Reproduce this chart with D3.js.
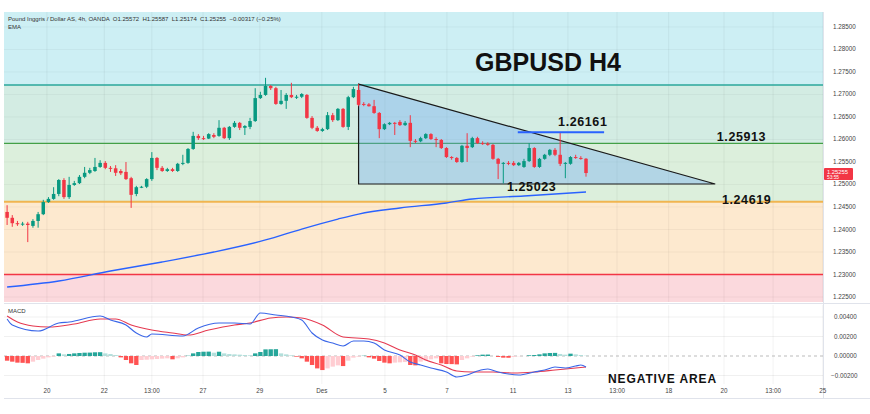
<!DOCTYPE html>
<html><head><meta charset="utf-8">
<script src="https://cdn.jsdelivr.net/npm/d3@7"></script>
<style>body{margin:0;background:#fff}svg{display:block;font-family:"Liberation Sans",Arial,sans-serif}</style>
</head><body><svg id="c" width="870" height="414"></svg>
<script>
// ---- DATA ----
// 4h candles: [open, high, low, close]
const candles = [
[1.2439,1.2454,1.2410,1.2426],[1.2426,1.2432,1.2406,1.2414],[1.2414,1.2419,1.2408,1.2412],[1.2412,1.2417,1.2408,1.2413],
[1.2413,1.2417,1.2372,1.2410],[1.2408,1.2423,1.2404,1.2419],[1.2419,1.2439,1.2404,1.2434],[1.2434,1.2466,1.2432,1.2461],
[1.2461,1.2472,1.2459,1.2468],[1.2468,1.2494,1.2466,1.2479],[1.2479,1.2512,1.2474,1.2510],[1.2510,1.2514,1.2468,1.2472],
[1.2472,1.2517,1.2468,1.2499],[1.2499,1.2508,1.2497,1.2503],[1.2503,1.2521,1.2501,1.2517],[1.2517,1.2539,1.2514,1.2526],
[1.2526,1.2537,1.2523,1.2532],[1.2530,1.2559,1.2528,1.2539],[1.2539,1.2554,1.2537,1.2548],[1.2548,1.2552,1.2534,1.2537],
[1.2537,1.2541,1.2528,1.2536],[1.2536,1.2543,1.2519,1.2526],[1.2530,1.2534,1.2521,1.2525],[1.2528,1.2550,1.2510,1.2512],
[1.2514,1.2517,1.2448,1.2477],[1.2479,1.2497,1.2474,1.2494],[1.2494,1.2497,1.2492,1.2495],[1.2495,1.2514,1.2492,1.2512],
[1.2512,1.2572,1.2508,1.2559],[1.2559,1.2561,1.2532,1.2537],[1.2537,1.2541,1.2528,1.2530],[1.2530,1.2537,1.2528,1.2534],
[1.2534,1.2537,1.2528,1.2530],[1.2530,1.2548,1.2528,1.2546],[1.2546,1.2566,1.2543,1.2548],[1.2548,1.2581,1.2546,1.2579],
[1.2579,1.2617,1.2577,1.2608],[1.2608,1.2612,1.2599,1.2603],[1.2603,1.2608,1.2599,1.2602],[1.2602,1.2614,1.2601,1.2612],
[1.2610,1.2614,1.2603,1.2606],[1.2608,1.2643,1.2606,1.2626],[1.2626,1.2628,1.2601,1.2603],[1.2603,1.2630,1.2599,1.2628],
[1.2628,1.2641,1.2626,1.2637],[1.2637,1.2639,1.2621,1.2626],[1.2626,1.2632,1.2610,1.2630],[1.2628,1.2648,1.2623,1.2641],
[1.2641,1.2714,1.2639,1.2692],[1.2692,1.2706,1.2690,1.2699],[1.2699,1.2737,1.2697,1.2719],[1.2719,1.2721,1.2710,1.2714],
[1.2714,1.2717,1.2677,1.2679],[1.2679,1.2710,1.2677,1.2686],[1.2686,1.2703,1.2668,1.2699],[1.2699,1.2726,1.2692,1.2694],
[1.2694,1.2699,1.2690,1.2695],[1.2695,1.2703,1.2692,1.2701],[1.2699,1.2701,1.2646,1.2648],[1.2648,1.2652,1.2623,1.2626],
[1.2626,1.2630,1.2617,1.2619],[1.2619,1.2626,1.2617,1.2623],[1.2623,1.2661,1.2621,1.2654],[1.2654,1.2659,1.2639,1.2643],
[1.2643,1.2670,1.2641,1.2668],[1.2668,1.2670,1.2626,1.2628],[1.2628,1.2697,1.2621,1.2694],[1.2694,1.2717,1.2692,1.2712],
[1.2710,1.2723,1.2674,1.2677],[1.2679,1.2683,1.2674,1.2678],[1.2678,1.2681,1.2673,1.2674],[1.2674,1.2688,1.2657,1.2659],
[1.2659,1.2661,1.2603,1.2623],[1.2623,1.2636,1.2621,1.2634],[1.2634,1.2639,1.2632,1.2637],[1.2637,1.2639,1.2610,1.2636],
[1.2639,1.2643,1.2630,1.2632],[1.2632,1.2641,1.2630,1.2637],[1.2637,1.2654,1.2583,1.2597],[1.2597,1.2601,1.2592,1.2596],
[1.2596,1.2606,1.2594,1.2603],[1.2603,1.2614,1.2601,1.2612],[1.2612,1.2614,1.2599,1.2601],[1.2601,1.2605,1.2583,1.2599],
[1.2599,1.2601,1.2579,1.2581],[1.2581,1.2583,1.2559,1.2561],[1.2561,1.2563,1.2555,1.2559],[1.2559,1.2561,1.2548,1.2550],
[1.2550,1.2588,1.2548,1.2586],[1.2586,1.2614,1.2550,1.2581],[1.2583,1.2606,1.2581,1.2603],[1.2603,1.2606,1.2590,1.2592],
[1.2592,1.2596,1.2588,1.2591],[1.2591,1.2594,1.2586,1.2588],[1.2588,1.2590,1.2555,1.2557],[1.2557,1.2559,1.2512,1.2546],
[1.2546,1.2550,1.25023,1.2548],[1.2548,1.2552,1.2543,1.2546],[1.2548,1.2552,1.2541,1.2543],[1.2543,1.2550,1.2541,1.2548],
[1.2539,1.2557,1.2537,1.2552],[1.2552,1.2592,1.2550,1.2581],[1.2581,1.2583,1.2537,1.2539],[1.2539,1.2559,1.2537,1.2557],
[1.2557,1.2568,1.2555,1.2566],[1.2566,1.2579,1.2563,1.2577],[1.2577,1.2581,1.2563,1.2566],[1.2566,1.26161,1.2541,1.2546],
[1.2546,1.2550,1.2514,1.2548],[1.2546,1.2563,1.2544,1.2561],[1.2561,1.2566,1.2557,1.2559],[1.2559,1.2563,1.2555,1.2557],
[1.25572,1.25587,1.25174,1.25255]
];
// EMA keyframes [candle index, price]
const ema = [[0,1.22722],[10,1.22856],[20,1.23078],[30,1.23278],[40,1.23500],[50,1.23767],[57,1.24011],[64,1.24233],
  [68,1.24344],[76,1.24478],[85,1.24589],[90,1.24678],[100,1.24744],[112,1.24833]];
// MACD line & signal keyframes [candle index, value]
const macdLine = [[0,0.00379],[1,0.00318],[6,0.00256],[10,0.00338],[12,0.00349],[18,0.00410],[20,0.00369],[23,0.00318],
  [25,0.00236],[27,0.00195],[28,0.00226],[34,0.00205],[37,0.00287],[41,0.00338],[44,0.00338],[47,0.00328],[49,0.00441],
  [52,0.00421],[55,0.00400],[57,0.00369],[59,0.00236],[61,0.00164],[63,0.00133],[65,0.00103],[67,0.00154],[69,0.00154],
  [71,0.00133],[73,0.00062],[76,0.00010],[78,-0.00062],[80,-0.00092],[82,-0.00123],[85,-0.00164],[87,-0.00215],
  [89,-0.00195],[91,-0.00154],[93,-0.00133],[95,-0.00164],[97,-0.00185],[99,-0.00195],[102,-0.00164],[104,-0.00144],
  [106,-0.00113],[108,-0.00123],[110,-0.00103],[111,-0.00092],[112,-0.00113]];
const signalLine = [[0,0.00410],[2,0.00349],[5,0.00308],[8,0.00297],[13,0.00328],[18,0.00379],[21,0.00379],[24,0.00318],
  [28,0.00267],[32,0.00236],[35,0.00215],[39,0.00267],[44,0.00318],[47,0.00338],[51,0.00390],[54,0.00400],[57,0.00390],
  [61,0.00318],[65,0.00195],[70,0.00174],[73,0.00133],[76,0.00062],[79,0.00010],[81,-0.00041],[84,-0.00092],
  [87,-0.00154],[90,-0.00164],[94,-0.00164],[98,-0.00174],[102,-0.00164],[106,-0.00144],[110,-0.00123],[112,-0.00113]];
const histogram = [-0.00048,-0.00058,-0.00068,-0.00070,-0.00075,-0.00058,-0.00041,-0.00027,-0.00014,-0.00007,
  0.00027,0.00017,0.00021,0.00027,0.00031,0.00034,0.00035,0.00038,0.00039,0.00027,0.00020,0.00010,
  -0.00014,-0.00041,-0.00075,-0.00092,-0.00041,-0.00038,-0.00034,-0.00031,-0.00027,-0.00024,-0.00034,-0.00024,-0.00014,
  0.00003,0.00027,0.00041,0.00044,0.00045,0.00034,0.00044,0.00027,0.00020,0.00017,0.00014,0.00010,0.00007,
  0.00027,0.00041,0.00068,0.00069,0.00070,0.00027,0.00017,0.00007,
  -0.00007,-0.00024,-0.00058,-0.00092,-0.00127,-0.00144,-0.00127,-0.00109,-0.00096,-0.00103,-0.00048,-0.00017,-0.00007,
  0.00003,-0.00014,-0.00027,-0.00051,-0.00068,-0.00075,-0.00068,-0.00065,-0.00062,-0.00092,-0.00096,-0.00058,-0.00048,
  -0.00034,-0.00024,-0.00075,-0.00082,-0.00083,-0.00086,-0.00041,-0.00024,-0.00007,0.00007,0.00014,0.00015,0.00000,
  -0.00010,-0.00017,-0.00018,-0.00010,-0.00003,0.00000,0.00007,0.00010,0.00017,0.00027,0.00031,0.00032,0.00021,
  0.00014,0.00024,0.00017,0.00010,0.00003];
// key levels
const levelResist = 1.27211, levelMid = 1.25913, levelSupport = 1.24619, levelLow = 1.23000;
const triangle = [[68,1.2723],[137,1.25011],[68,1.25011]];
const highLine = {from: 98.8, to: 115.5, price: 1.26161};
const priceTicks = [1.225,1.23,1.235,1.24,1.245,1.25,1.255,1.26,1.265,1.27,1.275,1.28,1.285];
const macdTicks = [0.004,0.002,0,-0.002];
const xTickIdx = [7.7,18.8,28,37.9,48.9,60.9,73.1,85.1,97.9,108.5,118,128,138.7,148.2,157.8];
const xTickLabels = ['20','22','13:00','27','29','Des','5','7','11','13','13:00','18','20','13:00','25'];
const annotations = [
  {text:'1.26161', idx:106.6, price:1.2630},
  {text:'1.25023', idx:96.7, price:1.2486},
  {text:'1.25913', idx:137.3, price:1.2597},
  {text:'1.24619', idx:138.3, price:1.2457}
];
const lastPrice = 1.25255;

// ---- DRAW ----
const svg = d3.select('#c');
const L = 4, R = 823, mainTop = 12, mainBot = 302, mTop = 305, mBot = 384;
const x = d3.scaleLinear().domain([-0.6, 157.85]).range([L, R]);
const y = d3.scaleLinear().domain([1.22389, 1.28833]).range([mainBot, mainTop]);
const ym = d3.scaleLinear().domain([-0.00287, 0.00523]).range([mBot, mTop]);
const fmt5 = v => d3.format('.5f')(v).replace('-', '\u2212');

// bands
const bands = [
  [y.domain()[1], levelResist, '#cdeff4'],
  [levelResist, levelMid, '#d3ece3'],
  [levelMid, levelSupport, '#dcefdc'],
  [levelSupport, levelLow, '#fde9cf'],
  [levelLow, y.domain()[0], '#fbd9dd']
];
svg.selectAll('rect.band').data(bands).join('rect').attr('class','band')
  .attr('x', L).attr('width', R - L)
  .attr('y', d => y(d[0])).attr('height', d => y(d[1]) - y(d[0]))
  .attr('fill', d => d[2]);

// grid
const g = svg.append('g');
g.selectAll('line.hg').data(priceTicks).join('line')
  .attr('x1', L).attr('x2', R).attr('y1', d => y(d)).attr('y2', d => y(d))
  .attr('stroke', 'rgba(0,0,0,0.04)');
g.selectAll('line.vg').data(xTickIdx).join('line')
  .attr('x1', d => x(d)).attr('x2', d => x(d)).attr('y1', mainTop).attr('y2', mBot)
  .attr('stroke', 'rgba(0,0,0,0.05)');
g.selectAll('line.mg').data(macdTicks.filter(d => d !== 0)).join('line')
  .attr('x1', L).attr('x2', R).attr('y1', d => ym(d)).attr('y2', d => ym(d))
  .attr('stroke', 'rgba(0,0,0,0.06)');

// level lines
const lv = [[levelResist,'#2aa79b',1.3],[levelMid,'#43a047',1.2],[levelSupport,'#f0b550',2],[levelLow,'#f23645',1.3]];
svg.selectAll('line.lv').data(lv).join('line')
  .attr('x1', L).attr('x2', R).attr('y1', d => y(d[0])).attr('y2', d => y(d[0]))
  .attr('stroke', d => d[1]).attr('stroke-width', d => d[2]);

// triangle
svg.append('path')
  .attr('d', d3.line().x(d => x(d[0])).y(d => y(d[1]))(triangle) + 'Z')
  .attr('fill', 'rgba(100,165,245,0.35)').attr('stroke', '#1a1a1a').attr('stroke-width', 1.2);

// EMA
svg.append('path').datum(ema)
  .attr('d', d3.line().x(d => x(d[0])).y(d => y(d[1])).curve(d3.curveMonotoneX))
  .attr('fill', 'none').attr('stroke', '#2962ff').attr('stroke-width', 1.3);

// candles
const up = '#089981', dn = '#f23645';
const step = x(1) - x(0), bw = step * 0.68;
const cg = svg.append('g');
cg.selectAll('line.w').data(candles).join('line')
  .attr('x1', (d, i) => x(i)).attr('x2', (d, i) => x(i))
  .attr('y1', d => y(d[1])).attr('y2', d => y(d[2]))
  .attr('stroke', d => d[3] >= d[0] ? up : dn).attr('stroke-width', 1);
cg.selectAll('rect.b').data(candles).join('rect')
  .attr('x', (d, i) => x(i) - bw / 2).attr('width', bw)
  .attr('y', d => y(Math.max(d[0], d[3])))
  .attr('height', d => Math.max(1, Math.abs(y(d[0]) - y(d[3]))))
  .attr('fill', d => d[3] >= d[0] ? up : dn);

// 1.26161 line
svg.append('line')
  .attr('x1', x(highLine.from)).attr('x2', x(highLine.to))
  .attr('y1', y(highLine.price)).attr('y2', y(highLine.price))
  .attr('stroke', '#2962ff').attr('stroke-width', 1.8);

// annotations
svg.selectAll('text.ann').data(annotations).join('text')
  .attr('x', d => x(d.idx)).attr('y', d => y(d.price))
  .attr('font-size', 12.5).attr('font-weight', 'bold').attr('letter-spacing', 0.6)
  .attr('fill', '#111').text(d => d.text);

// title
svg.append('text').attr('x', 475).attr('y', 71).attr('font-size', 25).attr('font-weight', 'bold')
  .attr('fill', '#111').text('GBPUSD H4');

// header
svg.append('text').attr('x', 8).attr('y', 21).attr('font-size', 6).attr('fill', '#333')
  .text('Pound Inggris / Dollar AS, 4h, OANDA  O1.25572  H1.25587  L1.25174  C1.25255  \u22120.00317 (\u22120.25%)')
  .style('white-space','pre');
svg.append('text').attr('x', 8).attr('y', 29).attr('font-size', 6).attr('fill', '#333').text('EMA');

// pane separators / borders
svg.append('rect').attr('x', L).attr('y', mainBot).attr('width', R - L).attr('height', mTop - mainBot).attr('fill', '#fff');
svg.append('line').attr('x1', R + 0.5).attr('x2', R + 0.5).attr('y1', mainTop).attr('y2', 398).attr('stroke', '#e0e3eb');
svg.append('line').attr('x1', L).attr('x2', 870).attr('y1', 398.5).attr('y2', 398.5).attr('stroke', '#e0e3eb');
svg.append('line').attr('x1', L).attr('x2', 870).attr('y1', 303.5).attr('y2', 303.5).attr('stroke', '#e0e3eb');

// price axis labels
svg.selectAll('text.pt').data(priceTicks).join('text')
  .attr('x', 833).attr('y', d => y(d) + 2).attr('font-size', 6.3).attr('fill', '#444').text(fmt5);
// last price tag
svg.append('rect').attr('x', 824).attr('y', y(lastPrice) - 5).attr('width', 29).attr('height', 12).attr('fill', '#f23645').attr('rx', 1);
svg.append('text').attr('x', 827).attr('y', y(lastPrice) + 1).attr('font-size', 5.8).attr('fill', '#fff').text(fmt5(lastPrice));
svg.append('text').attr('x', 827).attr('y', y(lastPrice) + 6.3).attr('font-size', 4.8).attr('fill', '#fff').text('53:55');

// MACD pane
svg.append('line').attr('x1', L).attr('x2', R).attr('y1', ym(0)).attr('y2', ym(0))
  .attr('stroke', '#aaa').attr('stroke-dasharray', '3,3').attr('stroke-width', 0.8);
const hcol = (v, i) => {
  const prev = i > 0 ? histogram[i - 1] : v;
  if (v >= 0) return v >= prev ? '#26a69a' : '#b2dfdb';
  return v <= prev ? '#ff5252' : '#ffcdd2';
};
svg.selectAll('rect.h').data(histogram).join('rect')
  .attr('x', (d, i) => x(i) - step * 0.42).attr('width', step * 0.84)
  .attr('y', d => ym(Math.max(0, d))).attr('height', d => Math.abs(ym(d) - ym(0)))
  .attr('fill', hcol);
svg.append('path').datum(signalLine)
  .attr('d', d3.line().x(d => x(d[0])).y(d => ym(d[1])).curve(d3.curveMonotoneX))
  .attr('fill', 'none').attr('stroke', '#e53950').attr('stroke-width', 1.1);
svg.append('path').datum(macdLine)
  .attr('d', d3.line().x(d => x(d[0])).y(d => ym(d[1])).curve(d3.curveMonotoneX))
  .attr('fill', 'none').attr('stroke', '#3a66e8').attr('stroke-width', 1.1);
svg.append('text').attr('x', 8).attr('y', 313).attr('font-size', 6).attr('fill', '#333').text('MACD');
svg.selectAll('text.mt').data(macdTicks).join('text')
  .attr('x', d => d < 0 ? 831 : 834).attr('y', d => ym(d) + 2).attr('font-size', 6.3).attr('fill', '#444').text(fmt5);

svg.append('text').attr('x', 608).attr('y', 383).attr('font-size', 12).attr('font-weight', 'bold')
  .attr('letter-spacing', 0.9).attr('fill', '#111').text('NEGATIVE AREA');

// x axis labels
svg.selectAll('text.xt').data(xTickIdx).join('text')
  .attr('x', d => x(d)).attr('y', 393).attr('text-anchor', 'middle').attr('font-size', 6.3).attr('fill', '#444')
  .text((d, i) => xTickLabels[i]);
</script></body></html>
